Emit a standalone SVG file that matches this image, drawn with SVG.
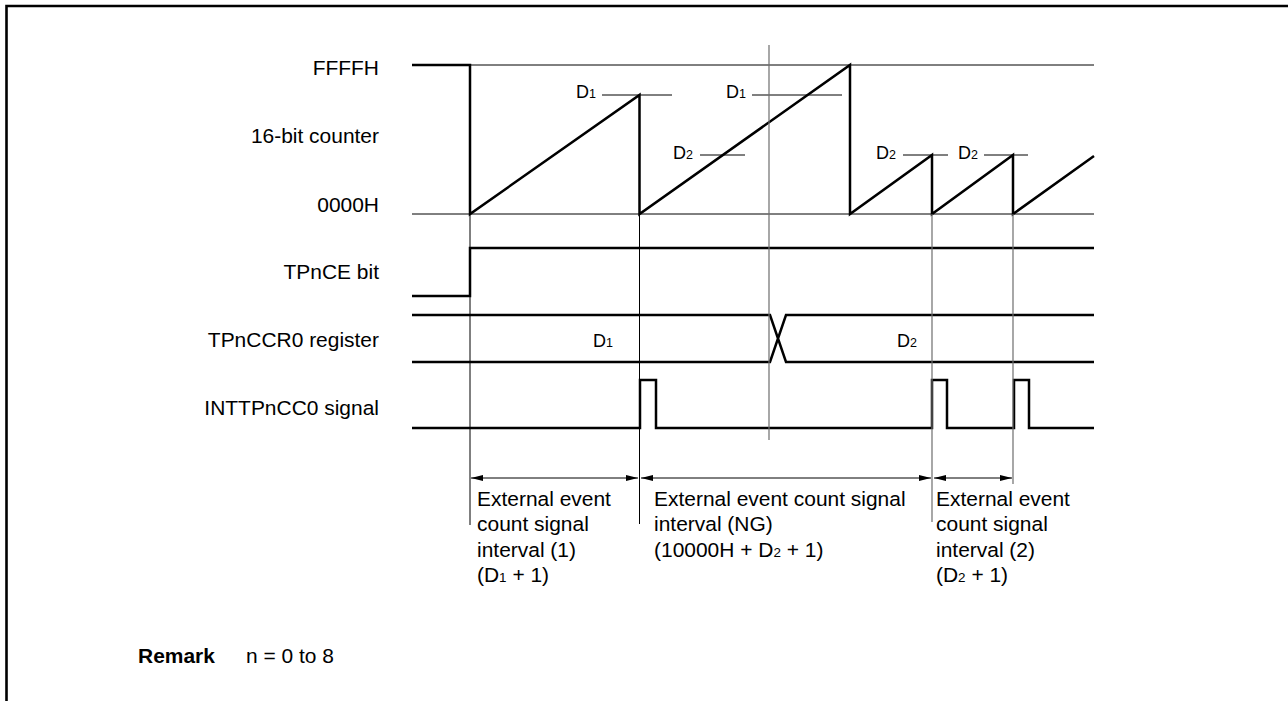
<svg xmlns="http://www.w3.org/2000/svg" width="1288" height="701" viewBox="0 0 1288 701">
<style>
text{font-family:"Liberation Sans",Arial,Helvetica,sans-serif;fill:#000}
.lb{font-size:19.5px}
.dl{font-size:18px}
.sb{font-size:12.5px}
.thin{fill:none;stroke:#000;stroke-width:1}
.grey{fill:none;stroke:#6e6e6e;stroke-width:1.2}
.thick{fill:none;stroke:#000;stroke-width:2.5;stroke-linejoin:miter}
.arr{fill:none;stroke:#000;stroke-width:1;marker-start:url(#ah);marker-end:url(#ah)}
</style>
<defs>
<marker id="ah" viewBox="0 0 12 6" refX="12" refY="3" markerWidth="12" markerHeight="6" markerUnits="userSpaceOnUse" orient="auto-start-reverse"><path d="M0,0 L12,3 L0,6 z" fill="#000"/></marker>
</defs>
<rect width="1288" height="701" fill="#fff"/>
<path d="M6.5,701 V6 H1288" fill="none" stroke="#000" stroke-width="2.6"/>

<g id="labels">
<text class="lb" text-anchor="end" transform="translate(379,75) scale(1.075,1)">FFFFH</text>
<text class="lb" text-anchor="end" transform="translate(379,143) scale(1.075,1)">16-bit counter</text>
<text class="lb" text-anchor="end" transform="translate(379,212) scale(1.075,1)">0000H</text>
<text class="lb" text-anchor="end" transform="translate(379,279) scale(1.075,1)">TPnCE bit</text>
<text class="lb" text-anchor="end" transform="translate(379,347) scale(1.075,1)">TPnCCR0 register</text>
<text class="lb" text-anchor="end" transform="translate(379,415) scale(1.075,1)">INTTPnCC0 signal</text>
</g>

<g id="counter">
<path class="thin" d="M470,65 H1094 M412,214 H1094"/>
<path class="thin" d="M602,95 H672 M700,155 H745 M752,95 H842 M903,155 H948 M984,155 H1028"/>
<path class="thick" d="M412,65 H470 V214 L639.5,95 V214 L850,65 V214 L932,155 V214 L1013,155 V214 L1094,156"/>
<text class="dl" x="576" y="98">D<tspan class="sb">1</tspan></text>
<text class="dl" x="673" y="159">D<tspan class="sb">2</tspan></text>
<text class="dl" x="726" y="98">D<tspan class="sb">1</tspan></text>
<text class="dl" x="876" y="159">D<tspan class="sb">2</tspan></text>
<text class="dl" x="958" y="159">D<tspan class="sb">2</tspan></text>
</g>

<g id="tpnce">
<path class="thick" d="M412,296 H470 V248 H1094"/>
</g>

<g id="tpnccr0">
<path class="thick" d="M412,315 H770 L786,362 H1094 M412,362 H770 L786,315 H1094"/>
<text class="dl" x="593" y="347">D<tspan class="sb">1</tspan></text>
<text class="dl" x="897" y="347">D<tspan class="sb">2</tspan></text>
</g>

<g id="inttpncc0">
<path class="thick" d="M412,428 H640 V380 H656 V428 H932 V380 H947 V428 H1014 V380 H1029 V428 H1094"/>
</g>

<g id="connectors">
<path class="thin" d="M470,214 V525 M639.5,214 V524"/>
<path class="grey" d="M769,45 V440 M932,214 V522 M1013,214 V484"/>
<path class="arr" d="M471,478 H638"/>
<path class="arr" d="M641,478 H931"/>
<path class="arr" d="M934,478 H1012"/>
</g>

<g id="interval1">
<text class="lb" transform="translate(477,505.5) scale(1.075,1)">External event</text>
<text class="lb" transform="translate(477,531) scale(1.075,1)">count signal</text>
<text class="lb" transform="translate(477,556.5) scale(1.075,1)">interval (1)</text>
<text class="lb" transform="translate(477,582) scale(1.075,1)">(D<tspan class="sb">1</tspan> + 1)</text>
</g>

<g id="intervalNG">
<text class="lb" transform="translate(654,505.5) scale(1.075,1)">External event count signal</text>
<text class="lb" transform="translate(654,531) scale(1.075,1)">interval (NG)</text>
<text class="lb" transform="translate(654,556.5) scale(1.075,1)">(10000H + D<tspan class="sb">2</tspan> + 1)</text>
</g>

<g id="interval2">
<text class="lb" transform="translate(936,505.5) scale(1.075,1)">External event</text>
<text class="lb" transform="translate(936,531) scale(1.075,1)">count signal</text>
<text class="lb" transform="translate(936,556.5) scale(1.075,1)">interval (2)</text>
<text class="lb" transform="translate(936,582) scale(1.075,1)">(D<tspan class="sb">2</tspan> + 1)</text>
</g>

<g id="remark">
<text class="lb" font-weight="bold" transform="translate(138,663) scale(1.075,1)">Remark</text>
<text class="lb" transform="translate(246,663) scale(1.075,1)">n = 0 to 8</text>
</g>
</svg>
